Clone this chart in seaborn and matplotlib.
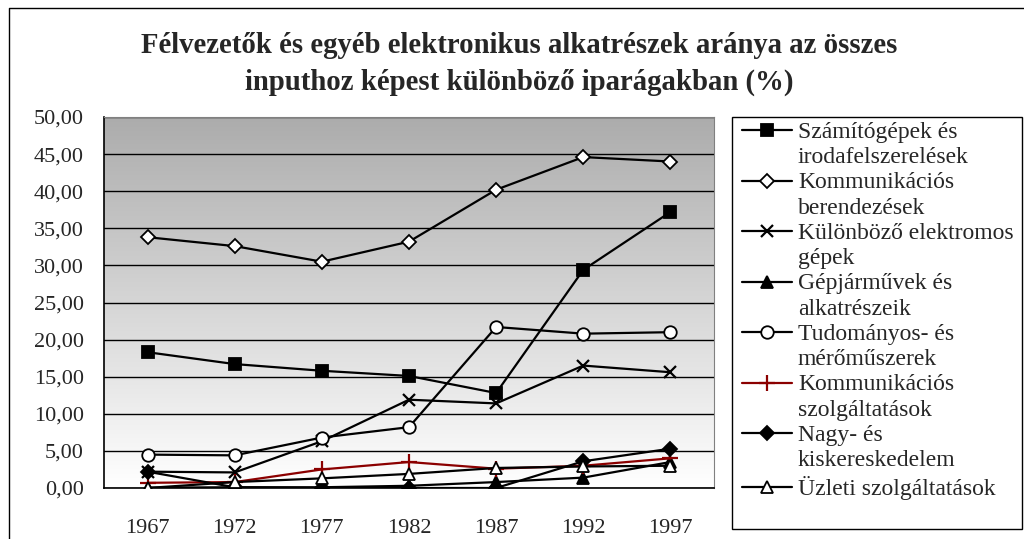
import numpy as np
import pandas as pd
import seaborn as sns
import matplotlib.pyplot as plt
from matplotlib.lines import Line2D
from matplotlib.ticker import FixedLocator, FuncFormatter

sns.set_style("white")
plt.rcParams["font.family"] = ["Liberation Serif", "DejaVu Serif"]

years = ["1967", "1972", "1977", "1982", "1987", "1992", "1997"]

szamitogepek = [18.3, 16.7, 15.8, 15.1, 12.8, 29.4, 37.2]
komm_berend = [33.8, 32.6, 30.5, 33.2, 40.2, 44.6, 44.0]
elektromos = [2.2, 2.1, 6.3, 11.9, 11.4, 16.5, 15.6]
gepjarmuvek = [0.05, 0.1, 0.1, 0.3, 0.8, 1.4, 3.5]
tudomanyos = [4.5, 4.4, 6.8, 8.2, 21.7, 20.8, 21.0]
komm_szolg = [0.7, 0.8, 2.5, 3.5, 2.6, 3.0, 4.0]
kereskedelem = [2.2, 0.1, 0.0, 0.0, 0.0, 3.6, 5.3]
uzleti = [0.0, 0.8, 1.3, 1.9, 2.7, 2.9, 3.0]

labels = [
    "Számítógépek és\nirodafelszerelések",
    "Kommunikációs\nberendezések",
    "Különböző elektromos\ngépek",
    "Gépjárművek és\nalkatrészeik",
    "Tudományos- és\nmérőműszerek",
    "Kommunikációs\nszolgáltatások",
    "Nagy- és\nkiskereskedelem",
    "Üzleti szolgáltatások",
]
series = [szamitogepek, komm_berend, elektromos, gepjarmuvek,
          tudomanyos, komm_szolg, kereskedelem, uzleti]

# marker, facecolor, size, line color
styles = [
    ("s", "black", 8, "black"),
    ("D", "white", 7, "black"),
    ("x", "black", 9, "black"),
    ("^", "black", 8, "black"),
    ("o", "white", 9, "black"),
    ("+", "#8b0000", 11, "#8b0000"),
    ("D", "black", 7, "black"),
    ("^", "white", 9, "black"),
]

W, H = 1024, 539
fig = plt.figure(figsize=(W / 100, H / 100), dpi=100)
ax = fig.add_axes([104 / W, 1 - 488 / H, 610 / W, 371 / H])

# gradient background of the plot area
grad = np.linspace(1, 0, 256).reshape(-1, 1)
ax.imshow(grad, cmap=plt.cm.colors.LinearSegmentedColormap.from_list(
    "g", ["#ffffff", "#acacac"]), aspect="auto",
    extent=[0, 1, 0, 1], transform=ax.transAxes, zorder=0)

pos = np.arange(len(years))
handles = []
for vals, lab, (m, fc, ms, lc) in zip(series, labels, styles):
    df = pd.DataFrame({"x": pos, "y": vals})
    sns.lineplot(data=df, x="x", y="y", ax=ax, color=lc, linewidth=1.6,
                 marker=m, markersize=ms, markerfacecolor=fc,
                 markeredgecolor=lc, markeredgewidth=1.6 if m in "x+" else 1.3,
                 zorder=3, legend=False)
    handles.append(ax.lines[-1])

ax.set_xlim(-0.5, 6.5)
ax.set_ylim(0, 50)
ax.set_xticks(pos)
ax.set_xticklabels(years, fontsize=16)
ax.xaxis.set_minor_locator(FixedLocator(np.arange(-0.5, 7, 1)))
ax.tick_params(axis="x", which="major", length=0, pad=22)
ax.tick_params(axis="x", which="minor", length=4.5, width=1, color="black",
               direction="out")
ax.set_yticks(np.arange(0, 51, 5))
ax.yaxis.set_major_formatter(FuncFormatter(lambda v, p: f"{v:.2f}".replace(".", ",")))
ax.tick_params(axis="y", length=4.5, width=1, color="black", direction="out",
               labelsize=16, pad=10)
ax.grid(axis="y", color="black", linewidth=1)
for ln in ax.get_ygridlines():
    ln.set_zorder(1)
ax.set_xlabel("")
ax.set_ylabel("")
for s in ["top", "right"]:
    ax.spines[s].set_color("#808080")
for s in ["left", "bottom"]:
    ax.spines[s].set_color("black")
    ax.spines[s].set_linewidth(1.2)

# legend: handle on the first line of each label, blank rows for wrapped lines
leg_handles, leg_labels = [], []
blank = Line2D([], [], linestyle="none")
for h, lab in zip(handles, labels):
    parts = lab.split("\n")
    leg_handles.append(h)
    leg_labels.append(parts[0])
    for p in parts[1:]:
        leg_handles.append(blank)
        leg_labels.append(p)

leg = ax.legend(leg_handles, leg_labels, loc="upper left",
                bbox_to_anchor=(742 / W, 1 - 122 / H),
                bbox_transform=fig.transFigure, frameon=False,
                fontsize=17, handlelength=2.12, handletextpad=0.25,
                handleheight=0.5, labelspacing=0.18, borderpad=0,
                borderaxespad=0)

# legend box
fig.patches.append(plt.Rectangle((732 / W, 1 - 529 / H), 290 / W, 412 / H,
                                 transform=fig.transFigure, fill=False,
                                 edgecolor="black", linewidth=1))

fig.text(0.507, 1 - 64 / H, "Félvezetők és egyéb elektronikus alkatrészek aránya az összes\n"
         "inputhoz képest különböző iparágakban (%)",
         ha="center", va="center", fontsize=20.7, fontweight="bold",
         linespacing=1.5)

# outer chart border (left and top edges visible)
fig.add_artist(Line2D([9 / W, 9 / W, 1], [0, 1 - 7.5 / H, 1 - 7.5 / H],
                      transform=fig.transFigure, color="black", linewidth=1))

fig.savefig("out.png", dpi=100)
